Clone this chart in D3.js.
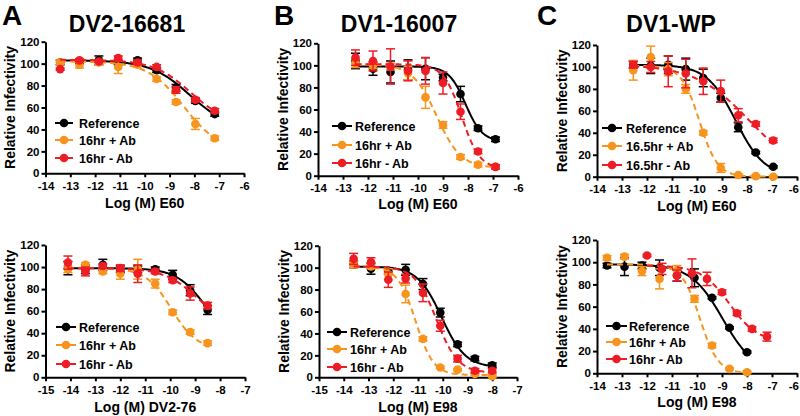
<!DOCTYPE html>
<html><head><meta charset="utf-8">
<script src="https://cdn.jsdelivr.net/npm/d3@7"></script>
<style>
body{margin:0;background:#fff}
svg{display:block}
text{font-family:"Liberation Sans",Arial,sans-serif;font-weight:bold;fill:#000}
</style>
</head><body>
<svg id="chart" width="800" height="416"></svg>
<script>
// ---------------- DATA ----------------
const panelLetters = ["A", "B", "C"];
const panelTitles = ["DV2-16681", "DV1-16007", "DV1-WP"];
const xAxisTitles = ["Log (M) E60", "Log (M) E60", "Log (M) E60", "Log (M) DV2-76", "Log (M) E98", "Log (M) E98"];
const yAxisTitle = "Relative Infectivity";
const seriesNames = ["Reference", "16hr + Ab", "16hr - Ab"];
const seriesNamesC1 = ["Reference", "16.5hr + Ab", "16.5hr - Ab"];
const yTicks = [0, 20, 40, 60, 80, 100, 120];
const xTicksA = [-14, -13, -12, -11, -10, -9, -8, -7, -6];
const xTicksB = [-15, -14, -13, -12, -11, -10, -9, -8, -7];

// Panel A top: DV2-16681, E60
const A1_x = [-13.41, -12.63, -11.85, -11.07, -10.29, -9.52, -8.74, -7.96, -7.18];
const A1_ref = [101, 102, 103, 101, 103, 94, 78, 66, 54];
const A1_ref_err = [2, 2, 4, 2, 2, 2, 3, 2, 2];
const A1_plus = [101, 99, 101, 97, 99, 86, 65, 45, 32];
const A1_plus_err = [2, 3, 2, 6, 2, 2, 2, 5, 2];
const A1_minus = [95, 103, 102, 105, 101, 97, 76, 67, 57];
const A1_minus_err = [1, 1, 1, 2, 2, 2, 3, 2, 2];
// fit parameters: [top, bottom, logIC50, hill]
const A1_ref_fit = [103, 40, -8.19, 0.55];
const A1_plus_fit = [102, 20, -8.43, 0.6];
const A1_minus_fit = [103.5, 44, -8.15, 0.58];

// Panel B top: DV1-16007, E60
const B1_x = [-12.5, -11.8, -11.1, -10.4, -9.7, -9.0, -8.3, -7.6, -6.9];
const B1_ref = [104, 97, 94, 96, 97, 89, 74, 43, 33];
const B1_ref_err = [7, 6, 10, 9, 10, 3, 7, 2, 2];
const B1_plus = [102, 100, 99, 93, 71, 46, 17, 10, 8];
const B1_plus_err = [4, 3, 3, 6, 10, 3, 2, 2, 1];
const B1_minus = [107, 104, 99, 95, 95, 84, 58, 22, 8];
const B1_minus_err = [7, 9, 16, 9, 12, 10, 7, 2, 2];
const B1_ref_fit = [99, 31, -8.1, 1.3];
const B1_plus_fit = [101, 7, -9.25, 0.9];
const B1_minus_fit = [101, 6, -8.25, 1.2];

// Panel C top: DV1-WP, E60
const C1_x = [-12.55, -11.85, -11.15, -10.45, -9.75, -9.05, -8.35, -7.65, -6.95];
const C1_ref = [102, 101, 102, 98, 90, 72, 45, 22, 9];
const C1_ref_err = [3, 7, 8, 10, 8, 4, 4, 1, 1];
const C1_plus = [97, 109, 98, 80, 40, 8, 1.5, 0.5, 0];
const C1_plus_err = [9, 10, 6, 4, 2, 4, 1, 1, 1];
const C1_minus = [102, 100, 96, 94, 87, 78, 56, 48, 33];
const C1_minus_err = [3, 5, 14, 13, 12, 10, 6, 2, 2];
const C1_ref_fit = [102, 0, -8.45, 0.75];
const C1_plus_fit = [101, 0, -9.9, 1.2];
const C1_minus_fit = [102, 0, -7.9, 0.4];

// Panel A bottom: DV2-76
const A2_x = [-14.1, -13.4, -12.7, -12.0, -11.3, -10.6, -9.9, -9.2, -8.5];
const A2_ref = [99, 98, 102, 98, 98, 98, 93, 79, 61];
const A2_ref_err = [6, 4, 5, 3, 3, 2, 4, 5, 4];
const A2_plus = [98, 102, 96, 94, 98, 85, 59, 41, 31];
const A2_plus_err = [3, 2, 2, 5, 9, 4, 2, 2, 2];
const A2_minus = [104, 96, 101, 99, 94, 96, 88, 76, 65];
const A2_minus_err = [6, 4, 2, 3, 8, 2, 2, 6, 3];
const A2_ref_fit = [99, 30, -8.58, 0.75];
const A2_plus_fit = [99, 25, -9.95, 0.85];
const A2_minus_fit = [99, 45, -8.91, 0.65];

// Panel B bottom: E98
const B2_x = [-13.6, -12.9, -12.2, -11.5, -10.8, -10.1, -9.4, -8.7, -8.0];
const B2_ref = [103, 99, 97, 98, 85, 59, 30, 17, 11];
const B2_ref_err = [3, 5, 3, 5, 5, 4, 2, 2, 2];
const B2_plus = [103, 101, 94, 76, 35, 9, 7, 3, 1];
const B2_plus_err = [3, 2, 5, 8, 2, 1, 1, 1, 1];
const B2_minus = [108, 105, 89, 90, 77, 47, 17, 6, 6];
const B2_minus_err = [5, 4, 7, 4, 8, 5, 3, 2, 2];
const B2_ref_fit = [101, 9, -10.05, 0.9];
const B2_plus_fit = [101, 2, -11.1, 1.2];
const B2_minus_fit = [101, 4, -10.25, 1.0];

// Panel C bottom: E98
const C2_x = [-13.6, -12.9, -12.2, -11.5, -10.8, -10.1, -9.4, -8.7, -8.0];
const C2_ref = [97, 96, 97, 95, 88, 86, 68, 41, 19];
const C2_ref_err = [2, 8, 3, 7, 5, 8, 1, 1, 1];
const C2_plus = [104, 105, 92, 85, 93, 67, 25, 4, 1];
const C2_plus_err = [2, 2, 4, 9, 4, 3, 2, 1, 1];
const C2_minus_x = [-12.0, -11.4, -10.8, -10.2, -9.6, -9.0, -8.4, -7.8, -7.2];
const C2_minus = [106, 94, 88, 90, 85, 73, 54, 40, 33];
const C2_minus_err = [1, 5, 5, 13, 6, 2, 2, 2, 4];
const C2_ref_fit = [98, 0, -8.97, 0.68];
const C2_plus_fit = [98, 0, -9.88, 1.2];
const C2_minus_fit = [97, 28, -8.70, 0.77];

// ---------------- STYLE / LAYOUT ----------------
const colors = ["#000000", "#F7941D", "#EE1C25"];
const dashes = [null, "6,4", "6,4"];

const svg = d3.select("#chart");

function mk(xs, ys, es) { return xs.map((x, i) => ({x, y: ys[i], e: es[i]})); }

const panels = [
  {xd: [-14, -6], ticks: xTicksA, x0: 45.5, x1: 244, yT: 41.7, yB: 173.3, xt: xAxisTitles[0], xtY: 208,
   names: seriesNames, leg: {l0: 55, l1: 73, tx: 79, rows: [123, 140, 158]},
   series: [mk(A1_x, A1_ref, A1_ref_err), mk(A1_x, A1_plus, A1_plus_err), mk(A1_x, A1_minus, A1_minus_err)],
   fits: [A1_ref_fit, A1_plus_fit, A1_minus_fit]},
  {xd: [-14, -6], ticks: xTicksA, x0: 318, x1: 518, yT: 43.3, yB: 175.7, xt: xAxisTitles[1], xtY: 209,
   names: seriesNames, leg: {l0: 332, l1: 352, tx: 355, rows: [126, 145, 163]},
   series: [mk(B1_x, B1_ref, B1_ref_err), mk(B1_x, B1_plus, B1_plus_err), mk(B1_x, B1_minus, B1_minus_err)],
   fits: [B1_ref_fit, B1_plus_fit, B1_minus_fit]},
  {xd: [-14, -6], ticks: xTicksA, x0: 597, x1: 797, yT: 45, yB: 176.7, xt: xAxisTitles[2], xtY: 211,
   names: seriesNamesC1, leg: {l0: 602, l1: 622, tx: 626, rows: [128, 146, 165]},
   series: [mk(C1_x, C1_ref, C1_ref_err), mk(C1_x, C1_plus, C1_plus_err), mk(C1_x, C1_minus, C1_minus_err)],
   fits: [C1_ref_fit, C1_plus_fit, C1_minus_fit]},
  {xd: [-15, -7], ticks: xTicksB, x0: 45.5, x1: 245, yT: 245, yB: 377.3, xt: xAxisTitles[3], xtY: 412,
   names: seriesNames, leg: {l0: 56, l1: 76, tx: 79, rows: [327, 345, 364]},
   series: [mk(A2_x, A2_ref, A2_ref_err), mk(A2_x, A2_plus, A2_plus_err), mk(A2_x, A2_minus, A2_minus_err)],
   fits: [A2_ref_fit, A2_plus_fit, A2_minus_fit]},
  {xd: [-15, -7], ticks: xTicksB, x0: 319, x1: 517, yT: 245.7, yB: 377.3, xt: xAxisTitles[4], xtY: 412,
   names: seriesNames, leg: {l0: 327, l1: 347, tx: 350, rows: [332, 349, 367]},
   series: [mk(B2_x, B2_ref, B2_ref_err), mk(B2_x, B2_plus, B2_plus_err), mk(B2_x, B2_minus, B2_minus_err)],
   fits: [B2_ref_fit, B2_plus_fit, B2_minus_fit]},
  {xd: [-14, -6], ticks: xTicksA, x0: 597, x1: 797, yT: 240, yB: 373.3, xt: xAxisTitles[5], xtY: 407,
   names: seriesNames, leg: {l0: 606, l1: 627, tx: 629, rows: [326, 342, 359]},
   series: [mk(C2_x, C2_ref, C2_ref_err), mk(C2_x, C2_plus, C2_plus_err), mk(C2_minus_x, C2_minus, C2_minus_err)],
   fits: [C2_ref_fit, C2_plus_fit, C2_minus_fit]}
];

function logistic(p, x) {
  const [top, bottom, ic50, hill] = p;
  return bottom + (top - bottom) / (1 + Math.pow(10, (ic50 - x) * -hill));
}

panels.forEach(p => {
  const x = d3.scaleLinear().domain(p.xd).range([p.x0, p.x1]);
  const y = d3.scaleLinear().domain([0, 120]).range([p.yB, p.yT]);
  const g = svg.append("g");

  // axes
  const ax = g.append("g").attr("transform", `translate(0,${p.yB})`)
    .call(d3.axisBottom(x).tickValues(p.ticks).tickSize(4).tickSizeOuter(0).tickPadding(4.5).tickFormat(d => String(d)));
  const ay = g.append("g").attr("transform", `translate(${p.x0},0)`)
    .call(d3.axisLeft(y).tickValues(yTicks).tickSize(4).tickSizeOuter(0).tickPadding(2).tickFormat(d => String(d)));
  [ax, ay].forEach(a => {
    a.select(".domain").attr("stroke", "#000").attr("stroke-width", 2);
    a.selectAll(".tick line").attr("stroke", "#000").attr("stroke-width", 2);
    a.selectAll(".tick text").style("font-size", "11.5px").style("font-weight", "bold")
      .style("font-family", '"Liberation Sans",Arial,sans-serif').attr("fill", "#000");
  });
  // keep the last tick label inside the canvas when the axis reaches the right edge
  if (p.x1 > 790) {
    ax.selectAll(".tick text").filter(d => d === p.xd[1]).attr("text-anchor", "end").attr("dx", "1.5");
  }

  // axis titles
  g.append("text").attr("x", (p.x0 + p.x1) / 2).attr("y", p.xtY).attr("text-anchor", "middle")
    .style("font-size", "14px").text(p.xt);
  g.append("text").attr("transform", `translate(${p.x0 - 35},${(p.yT + p.yB) / 2}) rotate(-90)`)
    .attr("text-anchor", "middle").attr("dy", "0.35em").style("font-size", "14px").text(yAxisTitle);

  // series
  const line = d3.line().x(d => x(d[0])).y(d => y(d[1]));
  p.series.forEach((s, k) => {
    const col = colors[k];
    const xmin = d3.min(s, d => d.x), xmax = d3.max(s, d => d.x);
    const pts = d3.range(xmin, xmax + 1e-9, (xmax - xmin) / 120).map(v => [v, logistic(p.fits[k], v)]);
    g.append("path").attr("d", line(pts)).attr("fill", "none").attr("stroke", col)
      .attr("stroke-width", 2).attr("stroke-dasharray", dashes[k]);
    const eb = g.append("g").attr("stroke", col).attr("stroke-width", 1.5).attr("fill", "none");
    s.forEach(d => {
      if (d.e > 0) {
        const ya = y(d.y + d.e), yb = y(d.y - d.e), xc = x(d.x);
        eb.append("line").attr("x1", xc).attr("x2", xc).attr("y1", ya).attr("y2", yb);
        eb.append("line").attr("x1", xc - 4.5).attr("x2", xc + 4.5).attr("y1", ya).attr("y2", ya);
        eb.append("line").attr("x1", xc - 4.5).attr("x2", xc + 4.5).attr("y1", yb).attr("y2", yb);
      }
    });
    g.append("g").selectAll("circle").data(s).join("circle")
      .attr("cx", d => x(d.x)).attr("cy", d => y(d.y)).attr("r", 4.3).attr("fill", col);
  });

  // legend
  p.names.forEach((n, k) => {
    const ry = p.leg.rows[k];
    g.append("line").attr("x1", p.leg.l0).attr("x2", p.leg.l1).attr("y1", ry).attr("y2", ry)
      .attr("stroke", colors[k]).attr("stroke-width", 2);
    g.append("circle").attr("cx", (p.leg.l0 + p.leg.l1) / 2).attr("cy", ry).attr("r", 4.3).attr("fill", colors[k]);
    g.append("text").attr("x", p.leg.tx).attr("y", ry + 4.5).style("font-size", "12.5px").text(n);
  });
});

// panel letters and titles
const letterX = [2, 274, 537];
const titleX = [127, 399, 671];
panelLetters.forEach((l, i) => {
  svg.append("text").attr("x", letterX[i]).attr("y", 25).style("font-size", "28px").text(l);
  svg.append("text").attr("x", titleX[i]).attr("y", 32).attr("text-anchor", "middle").style("font-size", "23px").text(panelTitles[i]);
});
</script>
</body></html>
